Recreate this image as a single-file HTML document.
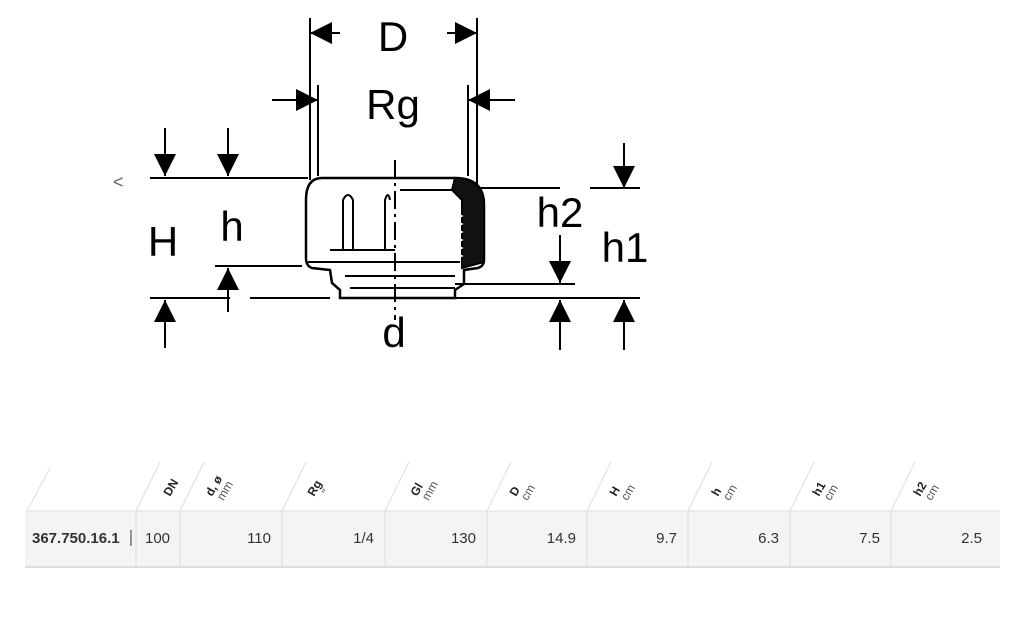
<!DOCTYPE html>
<html><head><meta charset="utf-8"><style>
body{margin:0;width:1024px;height:638px;background:#fff;overflow:hidden;font-family:"Liberation Sans",Arial,sans-serif;position:relative}
svg{position:absolute;left:0;top:0}
</style></head><body>
<svg width="1024" height="638" viewBox="0 0 1024 638">
<defs>
<marker id="b" viewBox="0 0 20 20" markerWidth="22" markerHeight="22" refX="20" refY="10" orient="auto" markerUnits="userSpaceOnUse"><path d="M0,0 L20,10 L0,20Z" fill="#000"/></marker>
</defs>
<g stroke="#000" stroke-width="2" fill="none">
<line x1="310" y1="18" x2="310" y2="180"/><line x1="477" y1="18" x2="477" y2="186"/>
<line x1="318" y1="85" x2="318" y2="176"/><line x1="468" y1="85" x2="468" y2="176"/>
<line x1="150" y1="178" x2="308" y2="178"/>
<line x1="150" y1="298" x2="230" y2="298"/><line x1="250" y1="298" x2="330" y2="298"/>
<line x1="215" y1="266" x2="302" y2="266"/>
<line x1="480" y1="188" x2="560" y2="188"/><line x1="590" y1="188" x2="640" y2="188"/>
<line x1="455" y1="284" x2="575" y2="284"/>
<line x1="455" y1="298" x2="640" y2="298"/>
<line x1="340" y1="33" x2="310" y2="33" marker-end="url(#b)"/>
<line x1="447" y1="33" x2="477" y2="33" marker-end="url(#b)"/>
<line x1="272" y1="100" x2="318" y2="100" marker-end="url(#b)"/>
<line x1="515" y1="100" x2="468" y2="100" marker-end="url(#b)"/>
<line x1="165" y1="128" x2="165" y2="176" marker-end="url(#b)"/>
<line x1="228" y1="128" x2="228" y2="176" marker-end="url(#b)"/>
<line x1="165" y1="348" x2="165" y2="300" marker-end="url(#b)"/>
<line x1="228" y1="312" x2="228" y2="268" marker-end="url(#b)"/>
<line x1="624" y1="143" x2="624" y2="188" marker-end="url(#b)"/>
<line x1="560" y1="235" x2="560" y2="283" marker-end="url(#b)"/>
<line x1="560" y1="350" x2="560" y2="300" marker-end="url(#b)"/>
<line x1="624" y1="350" x2="624" y2="300" marker-end="url(#b)"/>
<path d="M322,178 L455,178 Q484,178 484,205 L484,260 Q484,266 478,268 L464,270 L464,284 L455,290 L455,298 L340,298 L340,290 L332,283 L330,270 L312,268 Q306,266 306,258 L306,200 Q306,178 322,178Z" stroke-width="2.5"/>
<path d="M455,178 Q484,178 484,205 L484,262 L462,268 L462,200 L452,190Z" fill="#111"/>
<line x1="308" y1="262" x2="460" y2="262"/>
<line x1="330" y1="250" x2="395" y2="250"/>
<path d="M343,250 L343,200 Q348,190 353,200 L353,250"/>
<path d="M385,250 L385,200 Q388,190 390,200"/>
<line x1="400" y1="190" x2="455" y2="190"/>
<line x1="345" y1="276" x2="455" y2="276"/>
<line x1="350" y1="288" x2="455" y2="288"/>
<path d="M455,212 L462,216 L455,220 L462,224 L455,228 L462,232 L455,236 L462,240 L455,244 L462,248 L455,252 L462,256 L455,260" stroke-width="1.5" stroke="#fff"/>
<line x1="395" y1="160" x2="395" y2="320" stroke-dasharray="18,5,3,5" stroke-width="2"/>
</g>
<rect x="25" y="511" width="975" height="56" fill="#f4f4f4"/>
<line x1="25" y1="511" x2="1000" y2="511" stroke="#e0e0e0"/>
<line x1="25" y1="567" x2="1000" y2="567" stroke="#ddd" stroke-width="2"/>
<g stroke="#ddd" stroke-width="1">
<line x1="136" y1="511" x2="136" y2="567"/><line x1="180" y1="511" x2="180" y2="567"/>
<line x1="282" y1="511" x2="282" y2="567"/><line x1="385" y1="511" x2="385" y2="567"/>
<line x1="487" y1="511" x2="487" y2="567"/><line x1="587" y1="511" x2="587" y2="567"/>
<line x1="688" y1="511" x2="688" y2="567"/><line x1="790" y1="511" x2="790" y2="567"/>
<line x1="891" y1="511" x2="891" y2="567"/>
<line x1="27" y1="511" x2="50" y2="468"/>
<line x1="136" y1="511" x2="160" y2="462"/><line x1="180" y1="511" x2="204" y2="462"/>
<line x1="282" y1="511" x2="306" y2="462"/><line x1="385" y1="511" x2="409" y2="462"/>
<line x1="487" y1="511" x2="511" y2="462"/><line x1="587" y1="511" x2="611" y2="462"/>
<line x1="688" y1="511" x2="712" y2="462"/><line x1="790" y1="511" x2="814" y2="462"/>
<line x1="891" y1="511" x2="915" y2="462"/>
</g>
<g font-family="Liberation Sans, Arial, sans-serif" fill="#000">
<text x="393" y="51" font-size="42" text-anchor="middle">D</text>
<text x="393" y="119" font-size="42" text-anchor="middle">Rg</text>
<text x="163" y="256" font-size="42" text-anchor="middle">H</text>
<text x="232" y="241" font-size="42" text-anchor="middle">h</text>
<text x="560" y="227" font-size="42" text-anchor="middle">h2</text>
<text x="625" y="262" font-size="42" text-anchor="middle">h1</text>
<text x="394" y="347" font-size="42" text-anchor="middle">d</text>
<text x="113" y="188" font-size="18" fill="#666">&lt;</text>
</g>
<g font-family="Liberation Sans, Arial, sans-serif" font-size="12" fill="#222">
<g transform="translate(170,497) rotate(-60)"><text font-weight="bold">DN</text></g>
<g transform="translate(212,497) rotate(-60)"><text font-weight="bold">d, ø</text><text x="2" y="12" fill="#555">mm</text></g>
<g transform="translate(314,497) rotate(-60)"><text font-weight="bold">Rg</text><text x="8" y="12" fill="#555">"</text></g>
<g transform="translate(417,497) rotate(-60)"><text font-weight="bold">Gl</text><text x="2" y="12" fill="#555">mm</text></g>
<g transform="translate(516,497) rotate(-60)"><text font-weight="bold">D</text><text x="2" y="12" fill="#555">cm</text></g>
<g transform="translate(616,497) rotate(-60)"><text font-weight="bold">H</text><text x="2" y="12" fill="#555">cm</text></g>
<g transform="translate(718,497) rotate(-60)"><text font-weight="bold">h</text><text x="2" y="12" fill="#555">cm</text></g>
<g transform="translate(819,497) rotate(-60)"><text font-weight="bold">h1</text><text x="2" y="12" fill="#555">cm</text></g>
<g transform="translate(920,497) rotate(-60)"><text font-weight="bold">h2</text><text x="2" y="12" fill="#555">cm</text></g>
</g>
<g font-family="Liberation Sans, Arial, sans-serif" font-size="15" fill="#333">
<text x="32" y="543" font-weight="bold">367.750.16.1</text>
<line x1="131" y1="530" x2="131" y2="546" stroke="#333"/>
<text x="145" y="543">100</text>
<text x="271" y="543" text-anchor="end">110</text>
<text x="374" y="543" text-anchor="end">1/4</text>
<text x="476" y="543" text-anchor="end">130</text>
<text x="576" y="543" text-anchor="end">14.9</text>
<text x="677" y="543" text-anchor="end">9.7</text>
<text x="779" y="543" text-anchor="end">6.3</text>
<text x="880" y="543" text-anchor="end">7.5</text>
<text x="982" y="543" text-anchor="end">2.5</text>
</g>
</svg>
</body></html>
